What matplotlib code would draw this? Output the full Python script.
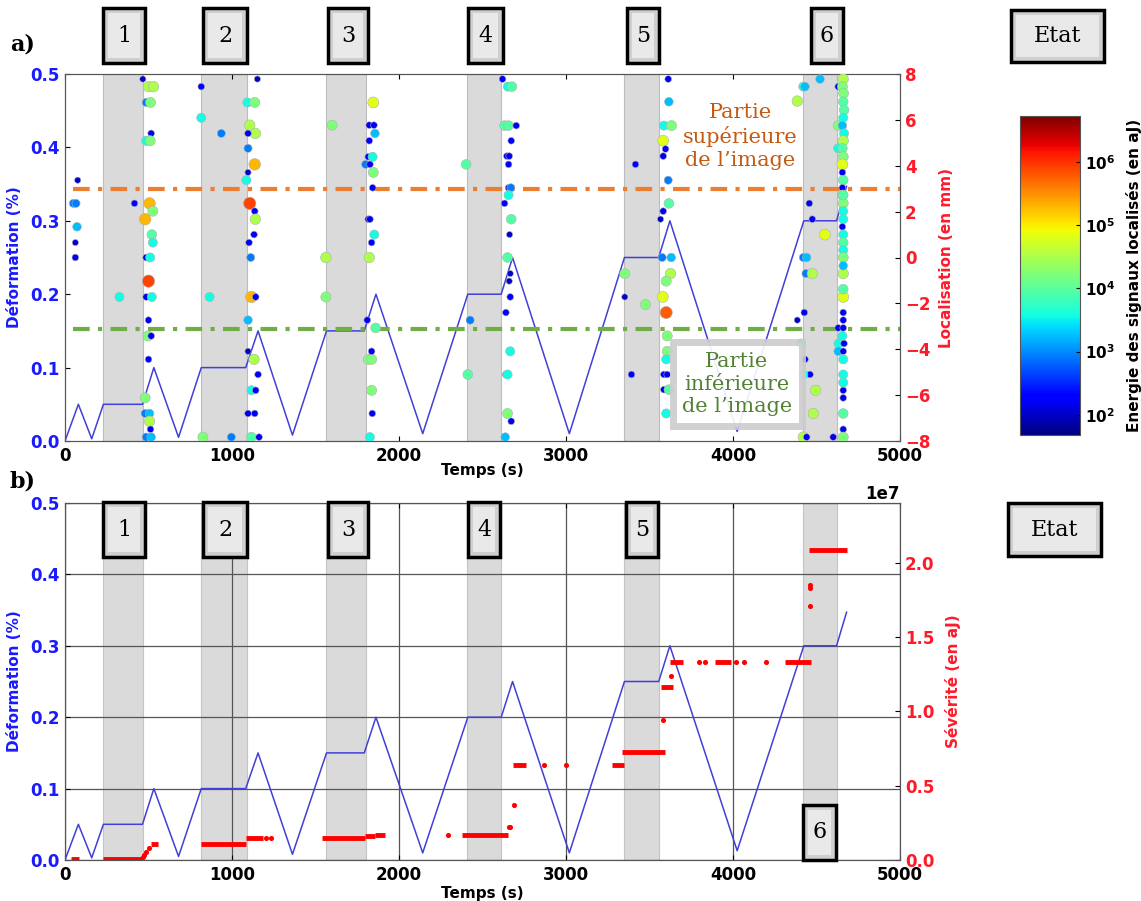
import numpy as np
import matplotlib
matplotlib.use('Agg')
import matplotlib.pyplot as plt
from matplotlib.colors import LogNorm
from matplotlib.patches import Rectangle
import matplotlib.cm as cm

W, H = 1141, 901

# strain program (time in s, strain in %)
strain_t = [0, 80, 160, 230, 464, 532, 680, 816, 1082, 1156, 1362, 1566, 1792, 1862,
            2142, 2412, 2612, 2680, 3020, 3350, 3555, 3622, 4025, 4424, 4620, 4680]
strain_v = [0, 0.05, 0.003, 0.05, 0.05, 0.1, 0.005, 0.1, 0.1, 0.15, 0.008, 0.15, 0.15, 0.2,
            0.01, 0.2, 0.2, 0.25, 0.01, 0.25, 0.25, 0.3, 0.013, 0.3, 0.3, 0.347]

# holding phases (grey bands) and their labels
band_t0 = [228, 814, 1560, 2410, 3345, 4419]
band_t1 = [466, 1088, 1800, 2612, 3557, 4622]
band_lab = ['1', '2', '3', '4', '5', '6']

# localised AE events: time (s), position (mm), energy (aJ)
loc_t = [50, 66, 76, 72, 62, 62, 326, 416,
         466, 500, 530, 486, 512, 516, 486, 510, 480, 506, 526, 520, 526, 486, 510, 500,
         486, 520, 500, 496, 516, 500, 480, 480, 506, 506, 512, 486, 516,
         816, 816, 936, 866, 826, 996,
         1152, 1092, 1136, 1106, 1140, 1096, 1096, 1136, 1096, 1086, 1106, 1136, 1140, 1102,
         1132, 1112, 1116, 1142, 1096, 1096, 1132, 1156, 1116, 1142, 1096, 1136, 1116, 1162,
         1600, 1562, 1562,
         1846, 1822, 1850, 1856, 1822, 1816, 1842, 1800, 1826, 1846, 1842, 1816, 1826, 1852,
         1836, 1822, 1810, 1860, 1816, 1836, 1836, 1836, 1840, 1826,
         2402, 2426, 2412,
         2620, 2652, 2676, 2632, 2656, 2702, 2672, 2646, 2660, 2656, 2656, 2670, 2656, 2632,
         2672, 2662, 2650, 2666, 2660, 2666, 2640, 2666, 2640, 2650, 2650, 2672, 2636,
         3416, 3352, 3352, 3476, 3392,
         3612, 3616, 3586, 3632, 3582, 3596, 3582, 3612, 3616, 3582, 3566, 3576, 3630, 3626,
         3600, 3580, 3600, 3606, 3606, 3600, 3586, 3606, 3586, 3616, 3600,
         4385, 4421, 4431, 4521, 4457, 4475, 4550, 4421, 4441, 4437, 4475, 4427, 4385, 4405,
         4431, 4461, 4421, 4495, 4481, 4421, 4441, 4600,
         4630, 4630, 4630, 4630, 4632, 4630,
         4660, 4655, 4662, 4660, 4665, 4660, 4655, 4665, 4660, 4655, 4660, 4655, 4655, 4660,
         4655, 4655, 4660, 4660, 4660, 4655, 4660, 4660, 4660, 4660, 4660, 4660, 4660, 4660,
         4660, 4655, 4665, 4660, 4660, 4660, 4660, 4660, 4660, 4660, 4660, 4660, 4660, 4660,
         4660]
loc_mm = [2.36, 2.36, 3.37, 1.34, 0.65, 0.0, -1.72, 2.36,
          7.78, 7.45, 7.45, 6.76, 6.76, 5.41, 5.09, 5.09, 1.67, 2.36, 2.02, 1.0, 0.65, 0.0, 0.0, -1.03,
          -1.72, -1.72, -2.73, -3.42, -3.42, -4.44, -6.12, -6.8, -6.8, -7.14, -7.49, -7.83, -7.83,
          7.45, 6.09, 5.41, -1.72, -7.83, -7.83,
          7.78, 6.76, 6.76, 5.77, 5.41, 5.41, 4.76, 4.06, 3.71, 3.37, 2.36, 2.02, 1.67, 0.65,
          1.0, 0.0, -1.72, -1.72, -2.73, -4.09, -4.44, -5.1, -5.79, -5.79, -6.8, -6.8, -7.83, -7.83,
          5.77, 0.0, -1.72,
          6.76, 5.77, 5.77, 5.41, 5.09, 4.39, 4.39, 4.06, 4.06, 3.71, 3.04, 1.67, 1.67, 1.0,
          0.65, 0.0, -2.73, -3.07, -4.44, -4.44, -4.09, -5.79, -6.8, -7.83,
          4.06, -2.73, -5.1,
          7.78, 7.45, 7.45, 5.75, 5.75, 5.75, 5.09, 4.42, 4.42, 4.06, 3.04, 3.04, 2.72, 2.36,
          1.67, 1.0, 0.0, -0.7, -1.03, -1.72, -2.4, -4.09, -5.1, -5.1, -6.8, -7.14, -7.83,
          4.06, -0.7, -1.72, -2.05, -5.1,
          7.78, 6.79, 5.75, 5.75, 5.09, 4.73, 4.42, 3.37, 2.36, 2.02, 1.67, 0.0, 0.0, -0.7,
          -1.03, -1.72, -2.4, -3.42, -4.09, -4.44, -5.1, -5.1, -5.76, -5.76, -6.8,
          6.82, 7.45, 7.45, 7.78, 2.36, 1.67, 1.0, 0.0, 0.0, -0.7, -0.7, -2.4, -2.73, -3.75,
          -4.44, -5.1, -5.1, -5.79, -6.8, -7.83, -7.83, -7.83,
          7.45, 5.75, 4.76, -3.07, -3.75, -4.09,
          7.78, 7.45, 7.16, 6.79, 6.43, 6.09, 5.75, 5.41, 5.09, 4.76, 4.39, 4.06, 3.71, 3.37,
          3.04, 2.72, 2.36, 2.02, 1.67, 1.34, 1.0, 0.65, 0.32, 0.0, -0.7, -1.72, -2.4, -2.73,
          -3.07, -3.42, -3.75, -4.09, -4.44, -5.1, -5.79, -6.12, -6.8, -7.49, -7.83, -5.45, -1.38, -0.36,
          2.72]
loc_E = [870, 870, 100, 1800, 100, 170, 3700, 170,
         100, 32000, 32000, 870, 16000, 170, 3700, 16000, 2e5, 2e5, 16000, 9000, 3700, 170, 3700, 8e5,
         170, 3700, 170, 16000, 170, 170, 16000, 870, 1800, 32000, 170, 870, 1800,
         170, 3700, 870, 3700, 16000, 870,
         100, 3700, 16000, 32000, 32000, 170, 870, 2e5, 100, 3700, 8e5, 170, 32000, 170,
         170, 870, 2e5, 170, 1800, 100, 32000, 170, 3700, 170, 170, 170, 9000, 170,
         16000, 32000, 16000,
         68000, 170, 170, 1800, 170, 170, 3700, 870, 170, 16000, 170, 170, 170, 3700,
         170, 32000, 170, 9000, 16000, 16000, 170, 16000, 170, 3700,
         9000, 870, 9000,
         170, 3700, 9000, 9000, 9000, 170, 170, 170, 170, 170, 170, 870, 3700, 170,
         9000, 100, 9000, 100, 100, 170, 170, 3700, 170, 3700, 16000, 170, 1800,
         170, 16000, 100, 16000, 170,
         170, 1800, 3700, 16000, 68000, 170, 170, 870, 9000, 170, 100, 870, 1800, 32000,
         16000, 68000, 6e5, 16000, 16000, 3700, 170, 170, 170, 9000, 3700,
         32000, 3700, 1800, 1800, 170, 170, 68000, 870, 1800, 870, 32000, 170, 100, 3700,
         170, 170, 3700, 32000, 32000, 32000, 170, 170,
         170, 16000, 3700, 170, 3700, 1800,
         32000, 16000, 16000, 9000, 9000, 3700, 1800, 3700, 32000, 9000, 16000, 68000, 170, 9000,
         170, 16000, 16000, 3700, 3700, 170, 3700, 9000, 3700, 16000, 32000, 68000, 170, 170,
         170, 3700, 170, 170, 3700, 3700, 170, 170, 9000, 170, 16000, 3700, 9000, 1800,
         9000]

# cumulative severity (aJ): dense runs and isolated points
sev_t0 = [36, 226, 516, 816, 1082, 1536, 1796, 1856, 2376, 2683, 3273, 3334, 3571, 3622,
          3890, 4310, 4456]
sev_t1 = [86, 466, 556, 1082, 1186, 1796, 1856, 1916, 2650, 2761, 3346, 3590, 3639, 3700,
          3990, 4468, 4683]
sev_lvl = [0.005e7, 0.008e7, 0.108e7, 0.107e7, 0.15e7, 0.15e7, 0.16e7, 0.17e7, 0.168e7,
           0.641e7, 0.641e7, 0.728e7, 1.162e7, 1.33e7, 1.33e7, 1.33e7, 2.085e7]
sev_pt_t = [466, 476, 486, 500, 1206, 1236, 2296, 2660, 2666, 2688, 2871, 3000, 3578, 3627,
            3798, 3834, 4017, 4066, 4200, 4461, 4461, 4462]
sev_pt_v = [0.02e7, 0.034e7, 0.056e7, 0.078e7, 0.15e7, 0.15e7, 0.168e7, 0.22e7, 0.22e7,
            0.37e7, 0.641e7, 0.641e7, 0.94e7, 1.24e7, 1.33e7, 1.33e7, 1.33e7, 1.33e7, 1.33e7,
            1.71e7, 1.83e7, 1.85e7]


def fx(px):
    return px / W


def fy(py):
    return 1 - py / H


def etiquette(x0, y0, x1, y1, txt, size=16):
    fig.add_artist(Rectangle((fx(x0), fy(y1)), (x1 - x0) / W, (y1 - y0) / H,
                             transform=fig.transFigure, fc='#cfcfcf', ec='black', lw=2.5, zorder=10))
    fig.add_artist(Rectangle((fx(x0 + 5), fy(y1 - 5)), (x1 - x0 - 10) / W, (y1 - y0 - 10) / H,
                             transform=fig.transFigure, fc='#e9e9e9', ec='none', zorder=10))
    fig.text(fx((x0 + x1) / 2), fy((y0 + y1) / 2), txt, ha='center', va='center',
             family='DejaVu Serif', fontsize=size, zorder=11)


blue = '#1a1aff'
red = '#ff1a2a'
line_col = '#4040d8'
norm = LogNorm(48, 5.3e6)

fig = plt.figure(figsize=(W / 100, H / 100), dpi=100)

# ---------- a) ----------
ax1 = fig.add_axes([fx(65), fy(441), (900 - 65) / W, (441 - 74) / H])
for a, b in zip(band_t0, band_t1):
    ax1.axvspan(a, b, fc='#dadada', ec='#bdbdbd', lw=0.8, zorder=0)
ax1.plot(strain_t, strain_v, color=line_col, lw=1.1, zorder=2)
ax1.set_xlim(0, 5000)
ax1.set_ylim(0, 0.5)
ax1.set_xticks([0, 1000, 2000, 3000, 4000, 5000])
ax1.set_yticks([0, 0.1, 0.2, 0.3, 0.4, 0.5])
ax1.set_ylabel('Déformation (%)', color=blue, fontweight='bold', fontsize=11, labelpad=6)
ax1.set_xlabel('Temps (s)', fontweight='bold', fontsize=11, labelpad=-1)
ax1.tick_params(direction='in', top=True, labelsize=12, pad=4)
ax1.tick_params(axis='y', labelcolor=blue)
for lab in ax1.get_xticklabels() + ax1.get_yticklabels():
    lab.set_fontweight('bold')

ax1r = ax1.twinx()
ax1r.hlines(3, 45, 5000, color='#ED7D31', lw=3, linestyle=(0, (4, 2, 1, 2)), zorder=1)
ax1r.hlines(-3.1, 45, 5000, color='#70AD47', lw=3, linestyle=(0, (4, 2, 1, 2)), zorder=1)
sizes = [20 + 15 * (np.log10(e) - 2) for e in loc_E]
ax1r.scatter(loc_t, loc_mm, c=loc_E, s=sizes, cmap='jet', norm=norm,
             edgecolors='#b0b0b0', linewidths=0.4, zorder=3)
ax1r.set_ylim(-8, 8)
ax1r.set_yticks(range(-8, 9, 2))
ax1r.set_ylabel('Localisation (en mm)', color=red, fontweight='bold', fontsize=11, labelpad=6)
ax1r.tick_params(direction='in', labelcolor=red, labelsize=12)
for lab in ax1r.get_yticklabels():
    lab.set_fontweight('bold')
for ax in (ax1, ax1r):
    for s in ax.spines.values():
        s.set_color('#555555')

fig.text(fx(740), fy(136), 'Partie\nsupérieure\nde l\u2019image', color='#C55A11',
         family='DejaVu Serif', fontsize=15, ha='center', va='center', linespacing=1.25)
fig.text(fx(737), fy(384), 'Partie\ninférieure\nde l\u2019image', color='#548235',
         family='DejaVu Serif', fontsize=15, ha='center', va='center', linespacing=1.25,
         bbox=dict(boxstyle='square,pad=0.45', fc='white', ec='#cccccc', lw=5, alpha=0.9))

# colorbar
cax = fig.add_axes([fx(1020), fy(435), 60 / W, (435 - 116) / H])
cb = fig.colorbar(cm.ScalarMappable(norm=norm, cmap='jet'), cax=cax)
cb.set_ticks([1e2, 1e3, 1e4, 1e5, 1e6])
cb.set_ticklabels([r'$\mathbf{10^{%d}}$' % k for k in range(2, 7)])
cb.ax.minorticks_off()
cb.ax.tick_params(labelsize=11, direction='in', length=3)
cb.outline.set_edgecolor('#555555')
cb.set_label('Energie des signaux localisés (en aJ)', fontweight='bold', fontsize=11, labelpad=8)

# ---------- b) ----------
ax3 = fig.add_axes([fx(65), fy(860), (900 - 65) / W, (860 - 503) / H])
for a, b in zip(band_t0, band_t1):
    ax3.axvspan(a, b, fc='#dadada', ec='#c4c4c4', lw=0.8, zorder=0)
ax3.plot(strain_t, strain_v, color=line_col, lw=1.1, zorder=3)
ax3.set_xlim(0, 5000)
ax3.set_ylim(0, 0.5)
ax3.set_xticks([0, 1000, 2000, 3000, 4000, 5000])
ax3.set_yticks([0, 0.1, 0.2, 0.3, 0.4, 0.5])
ax3.grid(True, color='#555555', lw=0.9)
ax3.set_ylabel('Déformation (%)', color=blue, fontweight='bold', fontsize=11, labelpad=6)
ax3.set_xlabel('Temps (s)', fontweight='bold', fontsize=11, labelpad=2)
ax3.tick_params(direction='in', top=True, labelsize=12, pad=4)
ax3.tick_params(axis='y', labelcolor=blue)
for lab in ax3.get_xticklabels() + ax3.get_yticklabels():
    lab.set_fontweight('bold')

ax3r = ax3.twinx()
ax3r.hlines(sev_lvl, sev_t0, sev_t1, color='red', lw=3.5, zorder=3)
ax3r.scatter(sev_pt_t, sev_pt_v, color='red', s=7, zorder=3)
ax3r.set_ylim(0, 2.4e7)
ax3r.set_yticks([0, 0.5e7, 1.0e7, 1.5e7, 2.0e7])
ax3r.set_ylabel('Sévérité (en aJ)', color=red, fontweight='bold', fontsize=11, labelpad=8)
ax3r.tick_params(direction='in', labelcolor=red, labelsize=12)
for lab in ax3r.get_yticklabels():
    lab.set_fontweight('bold')
ax3r.yaxis.get_offset_text().set_color('black')
ax3r.yaxis.get_offset_text().set_fontweight('bold')
ax3r.yaxis.get_offset_text().set_fontsize(12)
for ax in (ax3, ax3r):
    for s in ax.spines.values():
        s.set_color('#555555')

# state labels
top_x = [(103, 145), (203, 247), (328, 368), (468, 503), (627, 659), (811, 843)]
for (a, b), lab in zip(top_x, band_lab):
    etiquette(a, 8, b, 63, lab)
etiquette(1011, 10, 1104, 62, 'Etat')
bot_x = [(103, 145), (203, 247), (328, 368), (468, 500), (626, 658)]
for (a, b), lab in zip(bot_x, band_lab[:5]):
    etiquette(a, 502, b, 557, lab)
etiquette(803, 805, 836, 860, band_lab[5])
etiquette(1008, 503, 1101, 556, 'Etat')

fig.text(fx(10), fy(44), 'a)', family='DejaVu Serif', fontweight='bold', fontsize=16, va='center')
fig.text(fx(10), fy(482), 'b)', family='DejaVu Serif', fontweight='bold', fontsize=16, va='center')

fig.savefig('out.png', dpi=100)
